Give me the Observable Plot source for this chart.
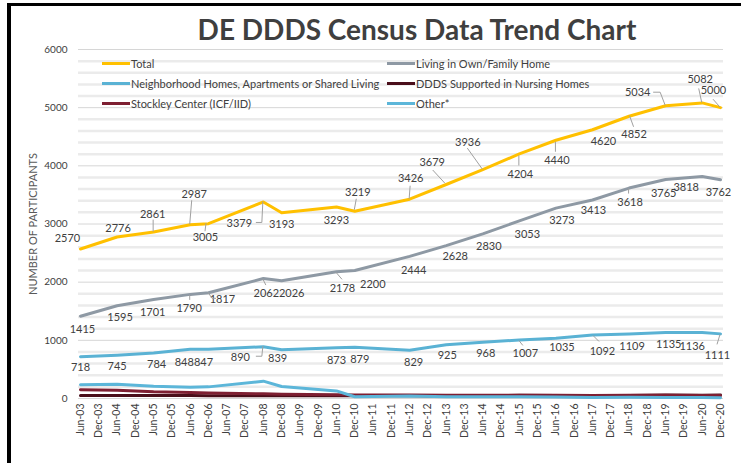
<!DOCTYPE html>
<html><head><meta charset="utf-8">
<script src="https://cdn.jsdelivr.net/npm/d3@7"></script>
<script src="https://cdn.jsdelivr.net/npm/@observablehq/plot@0.6"></script>
<style>
body{margin:0;background:#fff;}
#wrap{position:relative;width:741px;height:463px;overflow:hidden;font-family:Lato,"Open Sans",sans-serif;background:#fff;}
#wrap svg{position:absolute;left:0;top:0;}
.bar{position:absolute;background:#000;}
.title{position:absolute;left:0;top:12px;width:834px;text-align:center;font-weight:700;font-size:28px;line-height:34px;color:#3f3f3f;}
.lg{position:absolute;font-size:11px;color:#404040;line-height:14px;white-space:nowrap;}
.sw{position:absolute;height:3px;width:28px;}
</style></head><body><div id="wrap"></div>
<script>
// ---- data ----
const tickLabels = ["Jun-03","Dec-03","Jun-04","Dec-04","Jun-05","Dec-05","Jun-06","Dec-06","Jun-07","Dec-07","Jun-08","Dec-08","Jun-09","Dec-09","Jun-10","Dec-10","Jun-11","Dec-11","Jun-12","Dec-12","Jun-13","Dec-13","Jun-14","Dec-14","Jun-15","Dec-15","Jun-16","Dec-16","Jun-17","Dec-17","Jun-18","Dec-18","Jun-19","Dec-19","Jun-20","Dec-20"];
const dates = ["Jun-03","Jun-04","Jun-05","Jun-06","Dec-06","Jun-08","Dec-08","Jun-10","Dec-10","Jun-12","Jun-13","Jun-14","Jun-15","Jun-16","Jun-17","Jun-18","Jun-19","Jun-20","Dec-20"];
const seriesNames = ["Total","Living in Own/Family Home","Neighborhood Homes, Apartments or Shared Living","DDDS Supported in Nursing Homes","Stockley Center (ICF/IID)","Other*"];
const total = [2570,2776,2861,2987,3005,3379,3193,3293,3219,3426,3679,3936,4204,4440,4620,4852,5034,5082,5000];
const living = [1415,1595,1701,1790,1817,2062,2026,2178,2200,2444,2628,2830,3053,3273,3413,3618,3765,3818,3762];
const neighborhood = [718,745,784,848,847,890,839,873,879,829,925,968,1007,1035,1092,1109,1135,1136,1111];
const nursing = [50,50,50,50,46,49,47,47,48,48,40,50,55,50,45,50,60,58,60];
const stockley = [150,140,115,105,95,80,75,65,62,60,58,58,58,55,52,55,55,52,52];
const other = [237,246,211,194,200,298,206,130,30,45,28,30,31,27,18,20,19,18,15];
const yTicks = [0,1000,2000,3000,4000,5000,6000];

// ---- styling / label layout ----
const colors = ["#FFC000","#8E99A4","#5AB2D4","#4A0E1A","#7E1F32","#5CB6D9"];
const totalOff = [[-13,-11],[1,-9],[-1,-18],[4,-30],[-3,14],[-24,22],[0,12],[0,14],[3,-19],[1,-21],[-14,-22],[-15,-27],[1,21],[1,20],[11,12],[5,18],[-28,-13],[-2,-23],[-7,-17]];
const livingOff = [[2,13],[3,12],[-1,13],[-1,14],[14,7],[3,15],[10,13],[6,17],[18,14],[4,14],[9,11],[6,13],[8,14],[6,12],[1,10],[1,14],[-2,14],[-16,11],[-2,13]];
const neighOff = [[0,11],[0,11],[3,12],[-6,13],[-5,13],[-23,11],[-4,9],[0,13],[5,12],[4,12],[1,11],[3,11],[6,14],[6,9],[10,16],[3,12],[3,12],[-10,14],[-3,22]];
const totalLeaders = {2:[[0,0],[0,-12]],3:[[0,0],[2,-24]],4:[[-2,0],[-3,8]],5:[[0,0],[-1,21],[-7,21]],8:[[0,-1],[2,-12]],9:[[0,0],[1,-13]],10:[[-1,-1],[-13,-14]],11:[[0,0],[-15,-21]],12:[[0,2],[0,12]],13:[[0,2],[0,12]],15:[[1,0],[5,11]],16:[[0,0],[-5,-13],[-12,-13]],17:[[0,0],[-3,-14]],18:[[0,0],[-7,-8]]};
const livingLeaders = {3:[[0,1],[0,6]],4:[[0,0],[4,6],[8,6]],5:[[0,1],[3,7]],7:[[0,1],[6,8]],15:[[0,1],[0,6]]};
const neighLeaders = {5:[[0,0],[-1,10],[-7,10]],12:[[0,1],[4,6]],14:[[1,1],[7,7]],18:[[0,1],[-3,11]]};

const xi = d => tickLabels.indexOf(d);
const allSeries = [total, living, neighborhood, nursing, stockley, other];
const rows = allSeries.map((vals, s) => vals.map((v, i) => ({x: xi(dates[i]), y: v, s})));

const labelMarks = [];
[[total,totalOff],[living,livingOff],[neighborhood,neighOff]].forEach(([vals, offs]) => {
  vals.forEach((v, i) => {
    labelMarks.push(Plot.text([{x: xi(dates[i]), y: v}], {x: "x", y: "y", text: () => String(v), dx: offs[i][0], dy: offs[i][1], fontSize: 11, fill: "#404040"}));
  });
});

const minor = d3.range(200, 6001, 200).filter(v => v % 1000 !== 0);

const plot = Plot.plot({
  width: 741, height: 463,
  marginLeft: 78, marginRight: 18, marginTop: 49, marginBottom: 65,
  style: {fontFamily: "Lato, 'Open Sans', sans-serif", background: "transparent", color: "#404040"},
  x: {domain: [0, 35], insetLeft: 2, insetRight: 3},
  y: {domain: [0, 6000]},
  marks: [
    Plot.ruleY(minor, {stroke: "#ebebeb", strokeWidth: 2.5}),
    Plot.ruleY(yTicks, {stroke: "#d6d6d6", strokeWidth: 1}),
    Plot.axisY({ticks: yTicks, tickSize: 0, tickPadding: 11, tickFormat: d3.format("d"), fontSize: 10, label: null}),
    Plot.axisX({ticks: d3.range(0, 36), tickSize: 0, tickPadding: 5, tickRotate: -90, tickFormat: i => tickLabels[i], fontSize: 10.5, label: null}),
    Plot.text(["NUMBER OF PARTICIPANTS"], {frameAnchor: "left", textAnchor: "middle", dx: -45, rotate: -90, text: d => d, fontSize: 11, fill: "#595959"}),
    ...rows.map((r, s) => Plot.line(r, {x: "x", y: "y", stroke: colors[s], strokeWidth: 3, strokeLinejoin: "round"})),
    ...labelMarks
  ]
});

// leader lines through the plot's own scales
const sx = plot.scale("x"), sy = plot.scale("y");
const lg = d3.select(plot).append("g").attr("stroke", "#a0a0a0").attr("stroke-width", 1).attr("fill", "none");
[[total,totalLeaders],[living,livingLeaders],[neighborhood,neighLeaders]].forEach(([vals, leaders]) => {
  Object.entries(leaders).forEach(([k, pts]) => {
    const i = +k;
    const px = sx.apply(xi(dates[i])), py = sy.apply(vals[i]);
    lg.append("path").attr("d", "M" + pts.map(([a, b]) => (px + a) + "," + (py + b)).join("L"));
  });
});

const wrap = document.getElementById("wrap");
wrap.appendChild(plot);

// title, legend, frame border
const t = document.createElement("div");
t.className = "title"; t.textContent = "DE DDDS Census Data Trend Chart";
wrap.appendChild(t);
const legendPos = [[102,63.5],[387,63.5],[102,83.5],[387,83.5],[102,103.5],[387,103.5]];
seriesNames.forEach((name, s) => {
  const [lx, ly] = legendPos[s];
  const sw = document.createElement("div");
  sw.className = "sw"; sw.style.left = lx + "px"; sw.style.top = (ly - 1.5) + "px"; sw.style.background = colors[s];
  wrap.appendChild(sw);
  const tx = document.createElement("div");
  tx.className = "lg"; tx.style.left = (lx + 29) + "px"; tx.style.top = (ly - 7) + "px"; tx.textContent = name;
  wrap.appendChild(tx);
});
const b1 = document.createElement("div"); b1.className = "bar";
Object.assign(b1.style, {left: "7px", top: "3px", width: "734px", height: "3px"});
const b2 = document.createElement("div"); b2.className = "bar";
Object.assign(b2.style, {left: "7px", top: "3px", width: "4px", height: "460px"});
wrap.appendChild(b1); wrap.appendChild(b2);
</script></body></html>
